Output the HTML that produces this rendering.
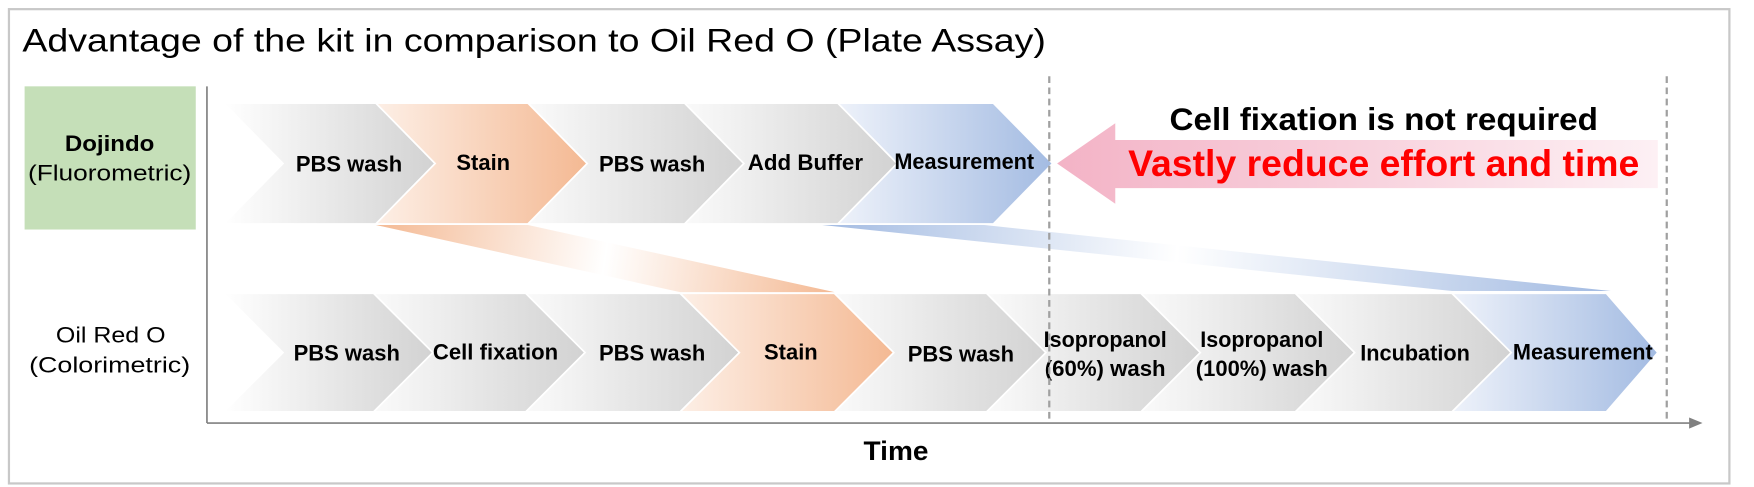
<!DOCTYPE html>
<html><head><meta charset="utf-8"><style>
html,body{margin:0;padding:0;background:#fff;}
svg{display:block;}
text{font-family:"Liberation Sans",Arial,sans-serif;}
</style></head><body>
<svg width="1754" height="487" viewBox="0 0 1568 435" xmlns="http://www.w3.org/2000/svg">
<defs>
<linearGradient id="g" x1="0" x2="1" y1="0" y2="0"><stop offset="0" stop-color="#fafafa"/><stop offset="1" stop-color="#d2d2d2"/></linearGradient>
<linearGradient id="g0" x1="0" x2="1" y1="0" y2="0"><stop offset="0" stop-color="#ffffff"/><stop offset="1" stop-color="#d2d2d2"/></linearGradient>
<linearGradient id="o" x1="0" x2="1" y1="0" y2="0"><stop offset="0" stop-color="#fdefe6"/><stop offset="1" stop-color="#f4b993"/></linearGradient>
<linearGradient id="b" x1="0" x2="1" y1="0" y2="0"><stop offset="0" stop-color="#eef2fa"/><stop offset="1" stop-color="#a3bbe2"/></linearGradient>
<linearGradient id="ob" gradientUnits="userSpaceOnUse" x1="336" y1="200" x2="746" y2="262"><stop offset="0" stop-color="#f4b993"/><stop offset="0.5" stop-color="#fff"/><stop offset="1" stop-color="#f4b993"/></linearGradient>
<linearGradient id="bb" gradientUnits="userSpaceOnUse" x1="735" y1="200" x2="1440" y2="260"><stop offset="0" stop-color="#a3bbe2"/><stop offset="0.45" stop-color="#fff"/><stop offset="1" stop-color="#a3bbe2"/></linearGradient>
<linearGradient id="pk" x1="0" x2="1" y1="0" y2="0"><stop offset="0" stop-color="#f3b3c6"/><stop offset="1" stop-color="#fdf0f4"/></linearGradient>
</defs>
<rect x="8" y="8" width="1538" height="424" fill="#fff" stroke="#c8c8c8" stroke-width="2"/>
<text x="20" y="46" font-size="29" fill="#000" textLength="915" lengthAdjust="spacingAndGlyphs">Advantage of the kit in comparison to Oil Red O (Plate Assay)</text>
<rect x="22" y="77" width="153" height="128" fill="#c5dfb8"/>
<text x="98" y="135" font-size="20" font-weight="bold" text-anchor="middle" textLength="80" lengthAdjust="spacingAndGlyphs">Dojindo</text>
<text x="98" y="161" font-size="20" text-anchor="middle" textLength="146" lengthAdjust="spacingAndGlyphs">(Fluorometric)</text>
<text x="99" y="306" font-size="20" text-anchor="middle" textLength="98" lengthAdjust="spacingAndGlyphs">Oil Red O</text>
<text x="98" y="333" font-size="20" text-anchor="middle" textLength="144" lengthAdjust="spacingAndGlyphs">(Colorimetric)</text>

<polygon points="336,201 472,201 746,261 608,261" fill="url(#ob)"/>
<polygon points="735,201 880,201 1440,260 1298,260" fill="url(#bb)"/>

<g stroke="#fff" stroke-width="1.5">
<path d="M200,92 L336,92 L389,146 L336,200 L200,200 L253,146 Z" fill="url(#g0)"/>
<path d="M336,92 L472,92 L525,146 L472,200 L336,200 L389,146 Z" fill="url(#o)"/>
<path d="M472,92 L612,92 L665,146 L612,200 L472,200 L525,146 Z" fill="url(#g)"/>
<path d="M612,92 L749,92 L802,146 L749,200 L612,200 L665,146 Z" fill="url(#g)"/>
<path d="M749,92 L888,92 L941,146 L888,200 L749,200 L802,146 Z" fill="url(#b)"/>
</g>
<g font-size="19.5" font-weight="bold" text-anchor="middle" lengthAdjust="spacingAndGlyphs">
<text x="312" y="153" textLength="95" lengthAdjust="spacingAndGlyphs">PBS wash</text>
<text x="432" y="152" textLength="48" lengthAdjust="spacingAndGlyphs">Stain</text>
<text x="583" y="153" textLength="95" lengthAdjust="spacingAndGlyphs">PBS wash</text>
<text x="720" y="152" textLength="103" lengthAdjust="spacingAndGlyphs">Add Buffer</text>
<text x="862" y="151" textLength="125" lengthAdjust="spacingAndGlyphs">Measurement</text>
</g>

<g stroke="#fff" stroke-width="1.5">
<path d="M200,262 L334,262 L387,315 L334,368 L200,368 L253,315 Z" fill="url(#g0)"/>
<path d="M334,262 L470,262 L523,315 L470,368 L334,368 L387,315 Z" fill="url(#g)"/>
<path d="M470,262 L608,262 L661,315 L608,368 L470,368 L523,315 Z" fill="url(#g)"/>
<path d="M608,262 L746,262 L799,315 L746,368 L608,368 L661,315 Z" fill="url(#o)"/>
<path d="M746,262 L882,262 L935,315 L882,368 L746,368 L799,315 Z" fill="url(#g)"/>
<path d="M882,262 L1020,262 L1073,315 L1020,368 L882,368 L935,315 Z" fill="url(#g)"/>
<path d="M1020,262 L1158,262 L1211,315 L1158,368 L1020,368 L1073,315 Z" fill="url(#g)"/>
<path d="M1158,262 L1298,262 L1351,315 L1298,368 L1158,368 L1211,315 Z" fill="url(#g)"/>
<path d="M1298,262 L1436,262 L1482,315 L1436,368 L1298,368 L1351,315 Z" fill="url(#b)"/>
</g>
<g font-size="19.5" font-weight="bold" text-anchor="middle">
<text x="310" y="322" textLength="95" lengthAdjust="spacingAndGlyphs">PBS wash</text>
<text x="443" y="321" textLength="112" lengthAdjust="spacingAndGlyphs">Cell fixation</text>
<text x="583" y="322" textLength="95" lengthAdjust="spacingAndGlyphs">PBS wash</text>
<text x="707" y="321" textLength="48" lengthAdjust="spacingAndGlyphs">Stain</text>
<text x="859" y="323" textLength="95" lengthAdjust="spacingAndGlyphs">PBS wash</text>
<text x="988" y="310" textLength="110" lengthAdjust="spacingAndGlyphs">Isopropanol</text>
<text x="988" y="336" textLength="108" lengthAdjust="spacingAndGlyphs">(60%) wash</text>
<text x="1128" y="310" textLength="110" lengthAdjust="spacingAndGlyphs">Isopropanol</text>
<text x="1128" y="336" textLength="118" lengthAdjust="spacingAndGlyphs">(100%) wash</text>
<text x="1265" y="322" textLength="98" lengthAdjust="spacingAndGlyphs">Incubation</text>
<text x="1415" y="321" textLength="125" lengthAdjust="spacingAndGlyphs">Measurement</text>
</g>

<line x1="185" y1="77" x2="185" y2="378" stroke="#808080" stroke-width="1.5"/>
<line x1="185" y1="378" x2="1512" y2="378" stroke="#808080" stroke-width="1.5"/>
<polygon points="1522,378 1510,373 1510,383" fill="#808080"/>
<text x="801" y="411" font-size="24" font-weight="bold" text-anchor="middle" textLength="58" lengthAdjust="spacingAndGlyphs">Time</text>
<line x1="938" y1="68" x2="938" y2="378" stroke="#a0a0a0" stroke-width="2" stroke-dasharray="6,4"/>
<line x1="1490" y1="68" x2="1490" y2="378" stroke="#a0a0a0" stroke-width="2" stroke-dasharray="6,4"/>

<polygon points="945,146 997,110 997,125 1482,125 1482,168 997,168 997,182" fill="url(#pk)"/>
<text x="1237" y="116" font-size="28" font-weight="bold" text-anchor="middle" textLength="383" lengthAdjust="spacingAndGlyphs">Cell fixation is not required</text>
<text x="1237" y="157" font-size="33" font-weight="bold" fill="#ff0000" text-anchor="middle" textLength="457" lengthAdjust="spacingAndGlyphs">Vastly reduce effort and time</text>
</svg>
</body></html>
